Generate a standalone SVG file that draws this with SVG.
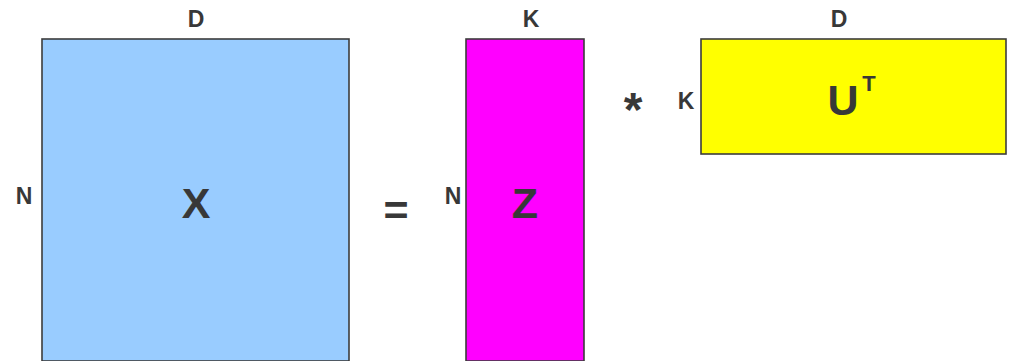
<svg xmlns="http://www.w3.org/2000/svg" width="1013" height="361" viewBox="0 0 1013 361">
<style>
.m{stroke:#3c3c3c;stroke-width:1.6}
.l{font-family:"Liberation Sans",Arial,sans-serif;font-weight:bold;font-size:23px;fill:#383838;text-anchor:middle}
.b{font-family:"Liberation Sans",Arial,sans-serif;font-weight:bold;font-size:43px;fill:#383838;text-anchor:middle}
</style>
<rect width="1013" height="361" fill="#ffffff"/>
<g id="X">
<rect class="m" x="42" y="39" width="307" height="322" fill="#99ccff"/>
<text class="b" x="196" y="218">X</text>
<text class="l" x="196" y="27">D</text>
<text class="l" x="24" y="204">N</text>
</g>
<g id="eq"><text class="b" x="396" y="225">=</text></g>
<g id="Z">
<rect class="m" x="466" y="39" width="118" height="322" fill="#ff00ff"/>
<text class="b" x="525" y="218">Z</text>
<text class="l" x="531" y="27">K</text>
<text class="l" x="453" y="204">N</text>
</g>
<g id="mul"><text class="b" x="633" y="126" style="font-size:48px">*</text></g>
<g id="U">
<rect class="m" x="701" y="39" width="305" height="115" fill="#ffff00"/>
<text class="b" x="843" y="115">U</text>
<text class="l" x="869" y="91" style="font-size:22px">T</text>
<text class="l" x="839" y="27">D</text>
<text class="l" x="686" y="109">K</text>
</g>
<g id="connectors"/>
</svg>
